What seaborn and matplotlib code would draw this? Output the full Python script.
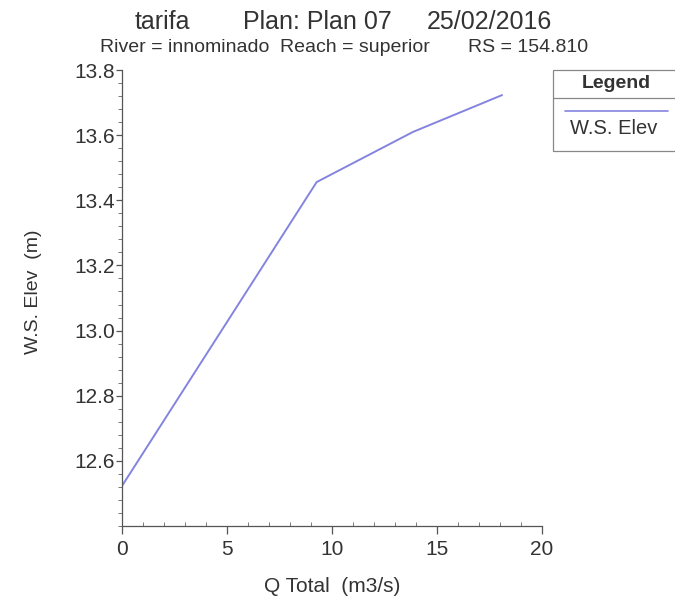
import matplotlib
matplotlib.use("Agg")
import matplotlib.pyplot as plt
import seaborn as sns
import pandas as pd
from matplotlib.ticker import MultipleLocator
from matplotlib.lines import Line2D
from matplotlib.patches import Rectangle

q_total = [0.0, 9.27, 13.86, 18.1]
ws_elev = [12.523, 13.456, 13.61, 13.723]
x_ticks = [0, 5, 10, 15, 20]
y_ticks = [12.6, 12.8, 13.0, 13.2, 13.4, 13.6, 13.8]
title_parts = ["tarifa", "Plan: Plan 07", "25/02/2016"]
subtitle_parts = ["River = innominado", "Reach = superior", "RS = 154.810"]

sns.set_style("white")
font = ["Liberation Sans", "DejaVu Sans"]
plt.rcParams["font.family"] = font
txt = "#333333"

W, H = 675, 610
fig = plt.figure(figsize=(6.75, 6.1), dpi=100)
ax = fig.add_axes([122 / W, 1 - 526 / H, 420 / W, 456 / H])

df = pd.DataFrame({"Q Total": q_total, "W.S. Elev": ws_elev})
sns.lineplot(data=df, x="Q Total", y="W.S. Elev", ax=ax, color="#8484e0", linewidth=1.4)

ax.set_xlim(0, 20)
ax.set_ylim(12.4, 13.8)
ax.set_xticks(x_ticks)
ax.set_xticklabels([str(v) for v in x_ticks])
ax.set_yticks(y_ticks)
ax.set_yticklabels([f"{v:.1f}" for v in y_ticks])
ax.xaxis.set_minor_locator(MultipleLocator(1))
ax.yaxis.set_minor_locator(MultipleLocator(0.04))
for s in ["top", "right"]:
    ax.spines[s].set_visible(False)
for s in ["left", "bottom"]:
    ax.spines[s].set_color("#555555")
    ax.spines[s].set_linewidth(0.9)
ax.tick_params(axis="x", which="major", direction="out", length=6, width=0.9,
               color="#555555", labelsize=15, labelcolor=txt, pad=4, bottom=True)
ax.tick_params(axis="y", which="major", direction="out", length=4, width=0.9,
               color="#555555", labelsize=15, labelcolor=txt, pad=1, left=True)
ax.tick_params(axis="y", which="minor", direction="out", length=3, width=0.7,
               color="#777777", left=True)
ax.tick_params(axis="x", which="minor", direction="in", length=3, width=0.7,
               color="#777777", bottom=True)
ax.set_xlabel("")
ax.set_ylabel("")
fig.text(332 / W, 1 - 587 / H, "Q Total  (m3/s)", ha="center", va="center",
         fontsize=15, color=txt)
fig.text(33 / W, 1 - 292 / H, "W.S. Elev  (m)", ha="center", va="center",
         fontsize=14, color=txt, rotation=90)

for part, x in zip(title_parts, [135, 243, 427]):
    fig.text(x / W, 1 - 22 / H, part, ha="left", va="center", fontsize=18, color=txt)
for part, x in zip(subtitle_parts, [100, 280, 468]):
    fig.text(x / W, 1 - 48 / H, part, ha="left", va="center", fontsize=14, color=txt)

# legend box
lx0, lx1 = 553 / W, 1.02
ly_top, ly_bot = 1 - 70 / H, 1 - 151 / H
fig.patches.append(Rectangle((lx0, ly_bot), lx1 - lx0, ly_top - ly_bot,
                             transform=fig.transFigure, fill=False,
                             edgecolor="#888888", linewidth=0.9))
fig.lines.append(Line2D([lx0, 1.0], [1 - 98 / H] * 2, transform=fig.transFigure,
                        color="#888888", linewidth=0.9))
fig.text(616 / W, 1 - 83 / H, "Legend", ha="center", va="center",
         fontsize=14, fontweight="bold", color=txt)
fig.lines.append(Line2D([565 / W, 668 / W], [1 - 111 / H] * 2,
                        transform=fig.transFigure, color="#8484e0", linewidth=1.2))
fig.text(614 / W, 1 - 129 / H, "W.S. Elev", ha="center", va="center",
         fontsize=14.5, color=txt)

fig.savefig("out.png", dpi=100)
